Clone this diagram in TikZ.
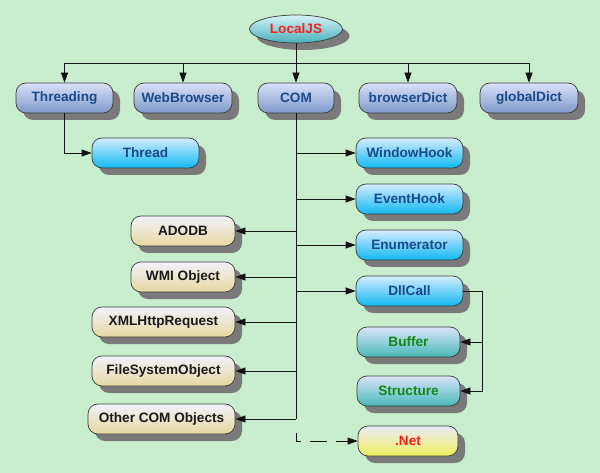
\documentclass[tikz,border=0pt]{standalone}
\usepackage{fontspec}
\setmainfont{Liberation Sans}
\usetikzlibrary{shapes.geometric,shadows,arrows.meta}
\definecolor{bg}{RGB}{200,238,205}
\definecolor{shadowgray}{RGB}{122,122,122}
\definecolor{bordergray}{RGB}{60,60,60}
\definecolor{linegray}{RGB}{20,20,20}
\definecolor{blueTop}{RGB}{218,226,248}
\definecolor{blueBot}{RGB}{124,152,200}
\definecolor{cyanTop}{RGB}{212,236,255}
\definecolor{cyanBot}{RGB}{16,184,240}
\definecolor{tanTop}{RGB}{242,242,252}
\definecolor{tanBot}{RGB}{230,216,160}
\definecolor{tealTop}{RGB}{218,228,250}
\definecolor{tealBot}{RGB}{72,184,184}
\definecolor{yelTop}{RGB}{234,234,248}
\definecolor{yelBot}{RGB}{240,240,96}
\definecolor{ellTop}{RGB}{214,244,248}
\definecolor{ellBot}{RGB}{72,176,186}
\definecolor{darkblue}{RGB}{26,74,138}
\definecolor{textblack}{RGB}{26,26,26}
\definecolor{textgreen}{RGB}{20,135,20}
\definecolor{textred}{RGB}{250,30,30}
\tikzset{
  box/.style={draw=bordergray, line width=0.7pt, rounded corners=10pt, minimum height=30pt, inner sep=0pt,
    font=\fontsize{13.6}{15}\selectfont\bfseries,
    general shadow={shadow xshift=7pt, shadow yshift=-7pt, fill=shadowgray}},
  topbox/.style={box, top color=blueTop, bottom color=blueBot, text=darkblue},
  cyanbox/.style={box, top color=cyanTop, bottom color=cyanBot, text=darkblue},
  tanbox/.style={box, top color=tanTop, bottom color=tanBot, text=textblack},
  tealbox/.style={box, top color=tealTop, bottom color=tealBot, text=textgreen},
  yelbox/.style={box, top color=yelTop, bottom color=yelBot, text=textred},
  ellbox/.style={ellipse, draw=bordergray, line width=0.7pt, minimum width=93pt, minimum height=28pt, inner sep=0pt,
    top color=ellTop, bottom color=ellBot, text=textred, font=\fontsize{13.6}{15}\selectfont\bfseries,
    general shadow={shadow xshift=7pt, shadow yshift=-7pt, fill=shadowgray}},
  conn/.style={draw=linegray, line width=0.7pt},
  arr/.style={conn, -{Triangle[length=10pt,width=7pt]}},
  dashconn/.style={arr, dash pattern=on 17pt off 9pt, dash phase=4pt},
}
\begin{document}
\begin{tikzpicture}[x=1pt,y=-1pt]
\fill[bg] (0,0) rectangle (600,473);
\useasboundingbox (0,0) rectangle (600,473);

\node[ellbox] (LocalJS) at (296,29) {LocalJS};

\node[topbox, minimum width=97pt] (Threading) at (64.5,98) {Threading};
\node[topbox, minimum width=98pt] (WebBrowser) at (183,98) {WebBrowser};
\node[topbox, minimum width=76pt] (COM) at (296,98) {COM};
\node[topbox, minimum width=98pt] (browserDict) at (408,98) {browserDict};
\node[topbox, minimum width=98pt] (globalDict) at (529,98) {globalDict};

\node[cyanbox, minimum width=107pt] (Thread) at (145.5,153) {Thread};
\node[cyanbox, minimum width=107pt] (WindowHook) at (409.5,153) {WindowHook};
\node[cyanbox, minimum width=107pt] (EventHook) at (409.5,199) {EventHook};
\node[cyanbox, minimum width=107pt] (Enumerator) at (409.5,245) {Enumerator};
\node[cyanbox, minimum width=107pt] (DllCall) at (409.5,291) {DllCall};

\node[tealbox, minimum width=103pt] (Buffer) at (408.5,342) {Buffer};
\node[tealbox, minimum width=103pt] (Structure) at (408.5,391) {Structure};

\node[tanbox, minimum width=104pt] (ADODB) at (183,231) {ADODB};
\node[tanbox, minimum width=104pt] (WMI) at (183,277) {WMI Object};
\node[tanbox, minimum width=143pt] (XMLHttp) at (163.5,322) {XMLHttpRequest};
\node[tanbox, minimum width=143pt] (FSO) at (163.5,371) {FileSystemObject};
\node[tanbox, minimum width=147pt] (Other) at (161.5,419) {Other COM Objects};

\node[yelbox, minimum width=100pt] (Net) at (408,441) {.Net};

% top bus
\coordinate (busL) at (64.5,63);
\coordinate (busR) at (529,63);
\draw[conn] (busL) -- (busR);
\draw[arr] (LocalJS.south) -- (COM.north);
\draw[arr] (Threading.north |- busL) -- (Threading.north);
\draw[arr] (WebBrowser.north |- busL) -- (WebBrowser.north);
\draw[arr] (browserDict.north |- busL) -- (browserDict.north);
\draw[arr] (globalDict.north |- busL) -- (globalDict.north);

% Threading -> Thread
\draw[arr] (Threading.south) |- (Thread.west);

% COM trunk
\draw[conn] (COM.south) -- (COM.south |- Other.east);
\draw[arr] (COM.south |- WindowHook.west) -- (WindowHook.west);
\draw[arr] (COM.south |- EventHook.west) -- (EventHook.west);
\draw[arr] (COM.south |- Enumerator.west) -- (Enumerator.west);
\draw[arr] (COM.south |- DllCall.west) -- (DllCall.west);
\draw[arr] (COM.south |- ADODB.east) -- (ADODB.east);
\draw[arr] (COM.south |- WMI.east) -- (WMI.east);
\draw[arr] (COM.south |- XMLHttp.east) -- (XMLHttp.east);
\draw[arr] (COM.south |- FSO.east) -- (FSO.east);
\draw[arr] (COM.south |- Other.east) -- (Other.east);

% DllCall -> Buffer, Structure
\coordinate (dc) at (482,291);
\draw[conn] (DllCall.east) -- (dc);
\draw[arr] (dc) |- (Buffer.east);
\draw[arr] (dc) |- (Structure.east);

% dashed to .Net
\coordinate (netstart) at (296,433);
\draw[dashconn] (netstart) |- (Net.west);
\end{tikzpicture}
\end{document}
